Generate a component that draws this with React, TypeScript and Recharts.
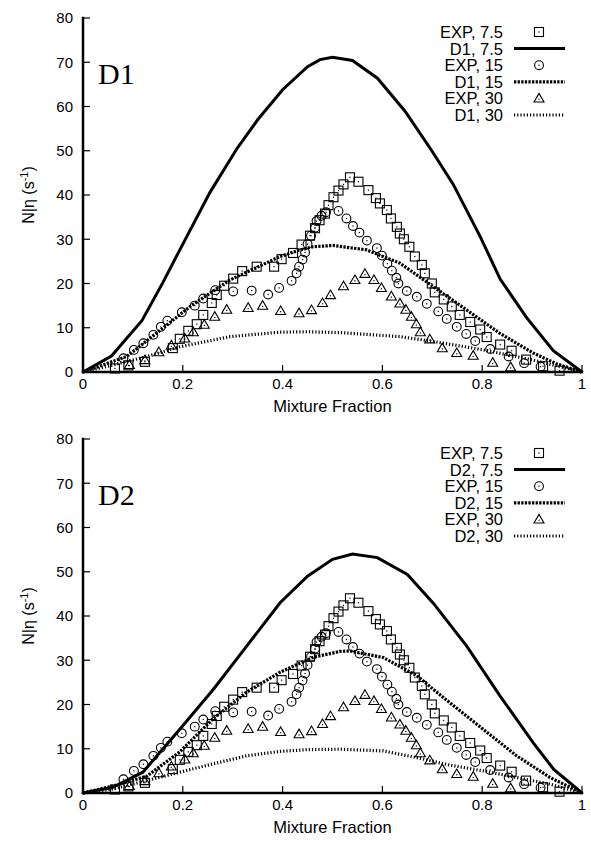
import React from 'react';
import {ComposedChart, Line, Scatter, XAxis, YAxis, Label} from 'recharts';

type Pt = [number, number];

const xTicks = [0, 0.2, 0.4, 0.6, 0.8, 1];
const yTicks = [0, 10, 20, 30, 40, 50, 60, 70, 80];

// measured points (same in both panels)
const exp75: Pt[] = [
  [0.064, 0.8], [0.091, 1.5], [0.124, 2.3], [0.18, 5.4], [0.194, 7.5], [0.211, 9.3], [0.228, 10.8],
  [0.241, 12.9], [0.258, 15.6], [0.268, 17.4], [0.283, 19.5], [0.301, 21.1], [0.319, 22.8], [0.348, 23.8],
  [0.383, 23.8], [0.398, 25.5], [0.421, 26.9], [0.438, 28.8], [0.455, 30.8], [0.465, 32.5], [0.474, 34.3],
  [0.485, 35.8], [0.492, 37.7], [0.502, 39.5], [0.512, 41.0], [0.522, 42.4], [0.535, 44.0], [0.552, 43.0],
  [0.572, 41.1], [0.587, 39.3], [0.595, 38.1], [0.609, 36.6], [0.617, 34.7], [0.629, 32.8], [0.635, 31.3],
  [0.643, 30.0], [0.654, 28.3], [0.665, 26.1], [0.679, 24.2], [0.685, 22.3], [0.699, 20.0], [0.705, 18.0],
  [0.723, 16.4], [0.739, 14.8], [0.755, 12.9], [0.776, 11.3], [0.796, 9.6], [0.809, 7.9], [0.836, 6.2],
  [0.859, 4.8], [0.888, 2.8], [0.922, 1.3], [0.955, 0.3],
];
const exp15: Pt[] = [
  [0.081, 3.1], [0.102, 5.0], [0.121, 6.5], [0.141, 8.4], [0.156, 10.2], [0.169, 11.6], [0.198, 13.5],
  [0.224, 15.0], [0.241, 16.6], [0.265, 18.5], [0.301, 18.2], [0.338, 18.4], [0.371, 17.5], [0.393, 19.0],
  [0.418, 20.6], [0.428, 22.3], [0.433, 23.8], [0.44, 25.4], [0.445, 27.0], [0.45, 28.9], [0.457, 30.8],
  [0.465, 32.6], [0.468, 34.1], [0.478, 35.3], [0.487, 36.1], [0.512, 36.4], [0.528, 34.7], [0.541, 33.0],
  [0.554, 31.5], [0.569, 29.7], [0.589, 28.0], [0.599, 26.3], [0.61, 24.5], [0.619, 22.9], [0.628, 21.3],
  [0.632, 20.0], [0.649, 18.3], [0.669, 17.0], [0.689, 15.4], [0.712, 13.7], [0.729, 12.0], [0.749, 10.2],
  [0.768, 8.6], [0.786, 7.0], [0.816, 5.2], [0.853, 3.5], [0.884, 2.0], [0.917, 1.2],
];
const exp30: Pt[] = [
  [0.093, 1.6], [0.124, 2.7], [0.152, 4.5], [0.177, 6.0], [0.204, 7.6], [0.221, 9.0], [0.243, 10.7],
  [0.264, 12.5], [0.288, 14.1], [0.331, 14.5], [0.36, 15.0], [0.396, 13.8], [0.433, 13.3], [0.458, 14.0],
  [0.48, 15.6], [0.496, 17.4], [0.522, 19.4], [0.545, 20.8], [0.565, 22.2], [0.583, 20.8], [0.598, 19.0],
  [0.618, 17.1], [0.635, 15.5], [0.647, 14.1], [0.658, 12.5], [0.668, 10.8], [0.676, 9.0], [0.695, 7.4],
  [0.72, 5.4], [0.749, 4.3], [0.782, 3.7], [0.821, 2.1], [0.857, 1.1],
];

// model curves
const d1s75: Pt[] = [
  [0, 0], [0.057, 3.6], [0.118, 11.6], [0.16, 20.2], [0.194, 27.6], [0.2545, 40.6], [0.308, 50.4],
  [0.35, 57], [0.4, 63.8], [0.45, 69], [0.475, 70.6], [0.5, 71.1], [0.54, 70.4], [0.59, 66.4],
  [0.645, 59], [0.699, 50], [0.742, 42.4], [0.796, 30.6], [0.836, 21], [0.889, 12.3], [0.9425, 4.8], [1, 0],
];
const d1s15: Pt[] = [
  [0, 0], [0.0875, 3.5], [0.15, 9], [0.2144, 14.8], [0.2946, 20.8], [0.395, 26.1], [0.435, 27.6],
  [0.461, 28.3], [0.501, 28.6], [0.568, 27.6], [0.635, 24.6], [0.702, 19.3], [0.769, 14.0], [0.836, 8.7],
  [0.902, 4.3], [0.95, 1.8], [1, 0],
];
const d1s30: Pt[] = [
  [0, 0], [0.06, 1.6], [0.128, 3.5], [0.194, 5.7], [0.295, 8.0], [0.395, 9.0], [0.45, 9.1], [0.515, 8.9],
  [0.635, 8.0], [0.702, 6.9], [0.802, 5.0], [0.902, 2.7], [1, 0],
];
const d2s75: Pt[] = [
  [0, 0], [0.06, 1.3], [0.12, 4.7], [0.194, 14.4], [0.261, 23.4], [0.328, 33.2], [0.395, 43], [0.45, 49],
  [0.5, 52.8], [0.54, 54], [0.59, 53.2], [0.65, 49.4], [0.702, 42.9], [0.769, 33.2], [0.836, 21.9],
  [0.902, 11.4], [0.943, 5.4], [1, 0],
];
const d2s15: Pt[] = [
  [0, 0], [0.061, 1.6], [0.128, 3.8], [0.194, 9.3], [0.261, 16.8], [0.328, 22.8], [0.395, 27.3],
  [0.462, 30.7], [0.515, 32.0], [0.535, 32.1], [0.602, 30.6], [0.669, 26.5], [0.735, 20.4], [0.802, 14.4],
  [0.869, 8.4], [0.936, 3.5], [1, 0],
];
const d2s30: Pt[] = [
  [0, 0], [0.06, 0.9], [0.128, 2.8], [0.194, 4.7], [0.261, 6.6], [0.328, 8.4], [0.395, 9.4], [0.45, 9.8],
  [0.515, 9.9], [0.602, 9.5], [0.669, 8.0], [0.735, 6.3], [0.802, 5.0], [0.869, 3.5], [0.936, 2.0], [1, 0],
];

const rows = (pts: Pt[]) => pts.map(([x, y]) => ({x, y}));

const SANS = '"Liberation Sans", Arial, sans-serif';
const SERIF = '"Liberation Serif", "Times New Roman", serif';
const TL = 7;      // inward tick length
const TM = 10;     // tick margin

const BottomTick = ({x, y, payload}: any) => {
  const ay = y - TM;
  return (
    <g>
      <line x1={x} x2={x} y1={ay} y2={ay - TL} stroke="#000" strokeWidth={1.2}/>
      <text x={x} y={ay + 6} dy="0.75em" textAnchor="middle" fontSize={15} fontFamily={SANS} fill="#000">
        {payload.value}
      </text>
    </g>
  );
};
const LeftTick = ({x, y, payload}: any) => {
  const ax = x + TM;
  return (
    <g>
      <line x1={ax} x2={ax + TL} y1={y} y2={y} stroke="#000" strokeWidth={1.2}/>
      <text x={ax - 10} y={y} dy="0.36em" textAnchor="end" fontSize={15} fontFamily={SANS} fill="#000">
        {payload.value}
      </text>
    </g>
  );
};
const TopTick = ({x, y}: any) => <line x1={x} x2={x} y1={y} y2={y + TL} stroke="#000" strokeWidth={1.2}/>;
const RightTick = ({x, y}: any) => <line x1={x} x2={x - TL} y1={y} y2={y} stroke="#000" strokeWidth={1.2}/>;

const Box = ({cx, cy}: any) => (
  <g>
    <rect x={cx - 4.5} y={cy - 4.5} width={9} height={9} fill="none" stroke="#000" strokeWidth={1.1}/>
    <rect x={cx - 0.6} y={cy - 0.6} width={1.2} height={1.2} fill="#000"/>
  </g>
);
const Ring = ({cx, cy}: any) => (
  <g>
    <circle cx={cx} cy={cy} r={4.4} fill="none" stroke="#000" strokeWidth={1.1}/>
    <rect x={cx - 0.6} y={cy - 0.6} width={1.2} height={1.2} fill="#000"/>
  </g>
);
const Tri = ({cx, cy}: any) => (
  <g>
    <polygon points={`${cx},${cy - 5} ${cx - 5},${cy + 3.6} ${cx + 5},${cy + 3.6}`} fill="none" stroke="#000" strokeWidth={1.1}/>
    <rect x={cx - 0.6} y={cy + 0.2} width={1.2} height={1.2} fill="#000"/>
  </g>
);

const lineStyles = {
  s75: {strokeWidth: 3, strokeDasharray: undefined as string | undefined},
  s15: {strokeWidth: 3.2, strokeDasharray: '2.3 1.3'},
  s30: {strokeWidth: 3.2, strokeDasharray: '1.2 2'},
};

type PanelProps = {tag: string; l75: Pt[]; l15: Pt[]; l30: Pt[]};

const Panel = ({tag, l75, l15, l30}: PanelProps) => {
  const legend = [
    {name: 'EXP, 7.5', mark: Box},
    {name: `${tag}, 7.5`, style: lineStyles.s75},
    {name: 'EXP, 15', mark: Ring},
    {name: `${tag}, 15`, style: lineStyles.s15},
    {name: 'EXP, 30', mark: Tri},
    {name: `${tag}, 30`, style: lineStyles.s30},
  ];
  return (
    <ComposedChart width={591} height={424} margin={{top: 18, right: 9, bottom: 0, left: 0}}>
      <XAxis xAxisId="b" dataKey="x" type="number" domain={[0, 1]} ticks={xTicks} interval={0}
             height={52} tickSize={0} tickMargin={TM} tickLine={false} tick={BottomTick}
             axisLine={{stroke: '#000', strokeWidth: 2.5, strokeLinecap: 'square'}}>
        <Label content={({viewBox}: any) => (
          <text x={viewBox.x + viewBox.width / 2} y={viewBox.y + 40} textAnchor="middle"
                fontSize={16.5} fontFamily={SANS} fill="#000">Mixture Fraction</text>
        )}/>
      </XAxis>
      <XAxis xAxisId="t" orientation="top" dataKey="x" type="number" domain={[0, 1]} ticks={xTicks}
             interval={0} height={0} tickSize={0} tickMargin={0} tickLine={false} tick={TopTick}
             axisLine={{stroke: '#000', strokeWidth: 2.5, strokeLinecap: 'square'}}/>
      <YAxis yAxisId="l" dataKey="y" type="number" domain={[0, 80]} ticks={yTicks} interval={0}
             width={83} tickSize={0} tickMargin={TM} tickLine={false} tick={LeftTick}
             axisLine={{stroke: '#000', strokeWidth: 2.5, strokeLinecap: 'square'}}>
        <Label content={({viewBox}: any) => {
          const cx = viewBox.x + 28;
          const cy = viewBox.y + viewBox.height / 2;
          return (
            <text x={cx} y={cy} transform={`rotate(-90 ${cx} ${cy})`} textAnchor="middle" dy="0.36em"
                  fontSize={16} fontFamily={SANS} fill="#000">
              N|η (s<tspan dy={-6} fontSize={11}>-1</tspan><tspan dy={6}>)</tspan>
            </text>
          );
        }}/>
      </YAxis>
      <YAxis yAxisId="r" orientation="right" dataKey="y" type="number" domain={[0, 80]} ticks={yTicks}
             interval={0} width={0} tickSize={0} tickMargin={0} tickLine={false} tick={RightTick}
             axisLine={{stroke: '#000', strokeWidth: 2.5, strokeLinecap: 'square'}}/>

      <Scatter xAxisId="b" yAxisId="l" data={rows(exp75)} dataKey="y" shape={Box} isAnimationActive={false}/>
      <Line xAxisId="b" yAxisId="l" data={rows(l75)} dataKey="y" type="linear" stroke="#000" dot={false}
            activeDot={false} {...lineStyles.s75} isAnimationActive={false}/>
      <Scatter xAxisId="b" yAxisId="l" data={rows(exp15)} dataKey="y" shape={Ring} isAnimationActive={false}/>
      <Line xAxisId="b" yAxisId="l" data={rows(l15)} dataKey="y" type="linear" stroke="#000" dot={false}
            activeDot={false} {...lineStyles.s15} isAnimationActive={false}/>
      <Scatter xAxisId="b" yAxisId="l" data={rows(exp30)} dataKey="y" shape={Tri} isAnimationActive={false}/>
      <Line xAxisId="b" yAxisId="l" data={rows(l30)} dataKey="y" type="linear" stroke="#000" dot={false}
            activeDot={false} {...lineStyles.s30} isAnimationActive={false}/>

      <text x={98} y={84} fontSize={30} fontFamily={SERIF} fill="#000">{tag}</text>
      <g>
        {legend.map((it, i) => {
          const ry = 32 + i * 16.6;
          const Mark = it.mark;
          return (
            <g key={it.name}>
              <text x={503} y={ry} dy="0.36em" textAnchor="end" fontSize={16.5} fontFamily={SANS} fill="#000">
                {it.name}
              </text>
              {Mark ? <Mark cx={539} cy={ry}/> : (
                <line x1={514} x2={565} y1={ry} y2={ry} stroke="#000" strokeWidth={it.style!.strokeWidth}
                      strokeDasharray={it.style!.strokeDasharray}/>
              )}
            </g>
          );
        })}
      </g>
    </ComposedChart>
  );
};

export default function App() {
  return (
    <div style={{position: 'absolute', left: 0, top: 0, width: 591, height: 848, background: '#fff'}}>
      <div style={{position: 'absolute', left: 0, top: 0}}>
        <Panel tag="D1" l75={d1s75} l15={d1s15} l30={d1s30}/>
      </div>
      <div style={{position: 'absolute', left: 0, top: 421}}>
        <Panel tag="D2" l75={d2s75} l15={d2s15} l30={d2s30}/>
      </div>
    </div>
  );
}
